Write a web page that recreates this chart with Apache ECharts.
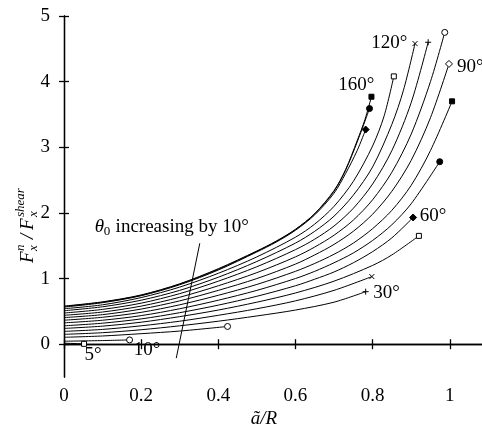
<!DOCTYPE html>
<html>
<head>
<meta charset="utf-8">
<script src="https://cdn.jsdelivr.net/npm/echarts@6/dist/echarts.min.js"></script>
<style>
html,body{margin:0;padding:0;background:#fff;}
#main{width:482px;height:431px;}
</style>
</head>
<body>
<div id="main"></div>
<script>
// Curves: F_x^n / F_x^shear vs a/R for theta0 values
const angles = [5, 10, 20, 30, 40, 50, 60, 70, 80, 90, 100, 110, 120, 130, 140, 150, 160];
const c5   = [[0,0.015],[0.052,0.005]];
const c10  = [[0,0.045],[0.1,0.055],[0.17,0.065]];
const c20  = [[0,0.105],[0.1,0.125],[0.2,0.16],[0.3,0.2],[0.424,0.27]];
const c30  = [[0,0.15],[0.1,0.175],[0.2,0.22],[0.3,0.28],[0.4,0.35],[0.5,0.43],[0.6,0.52],[0.7,0.64],[0.782,0.80]];
const c40  = [[0,0.195],[0.1,0.225],[0.2,0.28],[0.3,0.35],[0.4,0.44],[0.5,0.54],[0.6,0.66],[0.7,0.82],[0.798,1.03]];
const c50  = [[0,0.24],[0.1,0.275],[0.2,0.335],[0.3,0.42],[0.4,0.52],[0.5,0.64],[0.6,0.78],[0.7,0.96],[0.8,1.2],[0.85,1.36],[0.92,1.65]];
const c60  = [[0,0.28],[0.1,0.32],[0.2,0.385],[0.3,0.48],[0.4,0.595],[0.5,0.73],[0.6,0.89],[0.65,0.99],[0.7,1.1],[0.75,1.24],[0.8,1.41],[0.85,1.62],[0.905,1.93]];
const c70  = [[0,0.325],[0.1,0.365],[0.2,0.435],[0.3,0.54],[0.4,0.67],[0.5,0.82],[0.6,1.0],[0.65,1.11],[0.7,1.24],[0.75,1.39],[0.8,1.58],[0.85,1.82],[0.9,2.14],[0.974,2.78]];
const c80  = [[0,0.365],[0.1,0.41],[0.2,0.485],[0.3,0.60],[0.4,0.745],[0.5,0.91],[0.6,1.11],[0.65,1.23],[0.7,1.37],[0.75,1.54],[0.8,1.76],[0.85,2.04],[0.9,2.42],[0.95,2.95],[1.006,3.70]];
const c90  = [[0,0.405],[0.1,0.45],[0.2,0.535],[0.3,0.66],[0.4,0.82],[0.5,1.0],[0.6,1.22],[0.65,1.36],[0.7,1.52],[0.75,1.72],[0.8,1.98],[0.85,2.33],[0.9,2.8],[0.95,3.45],[0.998,4.27]];
const c100 = [[0,0.44],[0.1,0.49],[0.2,0.58],[0.3,0.715],[0.4,0.89],[0.5,1.09],[0.6,1.33],[0.65,1.48],[0.7,1.66],[0.75,1.89],[0.8,2.2],[0.85,2.62],[0.9,3.2],[0.95,4.0],[0.987,4.75]];
const c110 = [[0,0.475],[0.1,0.53],[0.2,0.625],[0.3,0.77],[0.4,0.96],[0.5,1.18],[0.6,1.44],[0.65,1.60],[0.7,1.80],[0.75,2.07],[0.8,2.44],[0.85,2.95],[0.9,3.68],[0.944,4.60]];
const c120 = [[0,0.51],[0.1,0.57],[0.2,0.67],[0.3,0.82],[0.4,1.02],[0.5,1.26],[0.6,1.54],[0.65,1.72],[0.7,1.95],[0.75,2.27],[0.8,2.7],[0.85,3.35],[0.88,3.87],[0.91,4.58]];
const c130 = [[0,0.54],[0.1,0.60],[0.2,0.71],[0.3,0.87],[0.4,1.08],[0.5,1.33],[0.6,1.63],[0.65,1.83],[0.7,2.10],[0.75,2.48],[0.8,3.02],[0.83,3.48],[0.855,4.08]];
const c140 = [[0,0.565],[0.1,0.632],[0.2,0.738],[0.3,0.905],[0.4,1.13],[0.5,1.405],[0.55,1.555],[0.6,1.735],[0.65,1.97],[0.7,2.30],[0.73,2.6],[0.76,2.95],[0.782,3.27]];
const c150 = [[0,0.575],[0.1,0.64],[0.2,0.745],[0.3,0.915],[0.4,1.14],[0.5,1.415],[0.55,1.565],[0.6,1.745],[0.65,1.985],[0.7,2.33],[0.73,2.65],[0.76,3.08],[0.792,3.59]];
const c160 = [[0,0.58],[0.1,0.645],[0.2,0.75],[0.3,0.92],[0.4,1.15],[0.5,1.42],[0.55,1.57],[0.6,1.75],[0.65,1.99],[0.7,2.34],[0.73,2.66],[0.76,3.1],[0.78,3.42],[0.797,3.77]];
const curves = [c5,c10,c20,c30,c40,c50,c60,c70,c80,c90,c100,c110,c120,c130,c140,c150,c160];
const markers = ['osq','ocirc','ocirc','plus','cross','osq','fdia','fcirc','fsq','odia','ocirc','plus','cross','osq','fdia','fcirc','fsq'];

const xTicks = [0, 0.2, 0.4, 0.6, 0.8, 1];
const xTickLabels = ['0', '0.2', '0.4', '0.6', '0.8', '1'];
const yTicks = [0, 1, 2, 3, 4, 5];
const yTickLabels = ['0', '1', '2', '3', '4', '5'];

// angle annotations: [text, x, y]
const angleLabels = [['5°',0.075,-0.16],['10°',0.215,-0.09],['30°',0.836,0.78],['60°',0.957,1.95],['90°',1.053,4.22],['120°',0.843,4.59],['160°',0.758,3.95]];
const arrowFrom = [0.291,-0.213];
const arrowTo = [0.352,1.537];
const noteText = ['θ', '0', ' increasing by 10°'];
const notePos = [0.08, 1.79];

const SERIF = '"Liberation Serif","DejaVu Serif",serif';
const FS = 19;
const chart = echarts.init(document.getElementById('main'), null, {renderer:'canvas'});

function markerStyle(m){
  switch(m){
    case 'osq': return {symbol:'rect', size:5, fill:'#fff'};
    case 'ocirc': return {symbol:'circle', size:6, fill:'#fff'};
    case 'odia': return {symbol:'diamond', size:7, fill:'#fff'};
    case 'fsq': return {symbol:'rect', size:5, fill:'#000'};
    case 'fcirc': return {symbol:'circle', size:6, fill:'#000'};
    case 'fdia': return {symbol:'diamond', size:7, fill:'#000'};
    case 'plus': return {symbol:'path://M0,5L10,5M5,0L5,10', size:6, fill:'none'};
    case 'cross': return {symbol:'path://M0,0L10,10M10,0L0,10', size:5, fill:'none'};
  }
}

const series = [];
curves.forEach((c, i) => {
  series.push({
    type:'line', data:c, smooth:0.3, symbol:'none',
    lineStyle:{color:'#000', width:1}, silent:true, z:2
  });
  const ms = markerStyle(markers[i]);
  series.push({
    type:'scatter', data:[c[c.length-1]], symbol:ms.symbol, symbolSize:ms.size,
    itemStyle:{color:ms.fill, borderColor:'#000', borderWidth:1, opacity:1}, silent:true, z:3
  });
});
series.push({
  type:'line', data:[], silent:true,
  markLine:{
    silent:true, symbol:['none','arrow'], symbolSize:[0,8],
    lineStyle:{color:'#000', width:1, type:'solid'}, label:{show:false},
    data:[[{coord:arrowFrom},{coord:arrowTo}]]
  }
});

const axisCommon = {
  axisLine:{show:true, lineStyle:{color:'#000', width:1.3}},
  axisTick:{show:true, inside:true, length:5, lineStyle:{color:'#000', width:1.3}},
  splitLine:{show:false}
};

chart.setOption({
  animation:false,
  grid:{left:64, top:16, right:-1, bottom:54, containLabel:false},
  xAxis:[
    Object.assign({type:'value', min:0, max:1.0836, position:'bottom',
      axisLabel:{show:true, customValues:xTicks, formatter:(v)=>xTickLabels[xTicks.indexOf(+v.toFixed(1))] ?? '', fontFamily:SERIF, fontSize:FS, color:'#000', margin:10},
    }, axisCommon, {axisTick:Object.assign({}, axisCommon.axisTick, {customValues:xTicks})}),
    Object.assign({type:'value', min:0, max:1.0836, position:'top', axisLabel:{show:false}},
      axisCommon, {axisTick:Object.assign({}, axisCommon.axisTick, {customValues:xTicks})})
  ],
  yAxis:[
    Object.assign({type:'value', min:-0.5, max:5, position:'left',
      axisLabel:{show:true, customValues:yTicks, formatter:(v)=>yTickLabels[yTicks.indexOf(Math.round(v))], fontFamily:SERIF, fontSize:FS, color:'#000', margin:14},
    }, axisCommon, {axisTick:Object.assign({}, axisCommon.axisTick, {customValues:yTicks})}),
    Object.assign({type:'value', min:-0.5, max:5, position:'right', axisLabel:{show:false}},
      axisCommon, {axisTick:Object.assign({}, axisCommon.axisTick, {customValues:yTicks})})
  ],
  series: series
});

function px(pt){ return chart.convertToPixel({xAxisIndex:0, yAxisIndex:0}, pt); }
const graphics = [];
angleLabels.forEach(([t,x,y])=>{
  const p = px([x,y]);
  graphics.push({type:'text', x:p[0], y:p[1], style:{text:t, font:FS+'px '+SERIF, fill:'#000', textAlign:'center', textVerticalAlign:'middle'}, z:10});
});
// note
const np = px(notePos);
graphics.push({type:'text', x:np[0], y:np[1], style:{text:noteText[0], font:'italic '+FS+'px '+SERIF, fill:'#000', textVerticalAlign:'middle'}, z:10});
graphics.push({type:'text', x:np[0]+9, y:np[1]+5, style:{text:noteText[1], font:'13px '+SERIF, fill:'#000', textVerticalAlign:'middle'}, z:10});
graphics.push({type:'text', x:np[0]+16, y:np[1], style:{text:noteText[2], font:FS+'px '+SERIF, fill:'#000', textVerticalAlign:'middle'}, z:10});
// x axis name
graphics.push({type:'text', x:264, y:419, style:{text:'ã/R', font:'italic '+FS+'px '+SERIF, fill:'#000', textAlign:'center', textVerticalAlign:'middle'}, z:10});
// y axis name (rotated group)
graphics.push({type:'group', x:28, y:205, rotation:Math.PI/2, children:[
  {type:'text', x:-58, y:0, style:{text:'F', font:'italic 19px '+SERIF, fill:'#000', textVerticalAlign:'middle'}},
  {type:'text', x:-46, y:-7, style:{text:'n', font:'italic 13px '+SERIF, fill:'#000', textVerticalAlign:'middle'}},
  {type:'text', x:-46, y:6, style:{text:'x', font:'italic 13px '+SERIF, fill:'#000', textVerticalAlign:'middle'}},
  {type:'text', x:-34, y:0, style:{text:'/', font:'italic 19px '+SERIF, fill:'#000', textVerticalAlign:'middle'}},
  {type:'text', x:-25, y:0, style:{text:'F', font:'italic 19px '+SERIF, fill:'#000', textVerticalAlign:'middle'}},
  {type:'text', x:-12, y:-7, style:{text:'shear', font:'italic 13px '+SERIF, fill:'#000', textVerticalAlign:'middle'}},
  {type:'text', x:-12, y:6, style:{text:'x', font:'italic 13px '+SERIF, fill:'#000', textVerticalAlign:'middle'}}
]});
chart.setOption({graphic:graphics});
</script>
</body>
</html>
